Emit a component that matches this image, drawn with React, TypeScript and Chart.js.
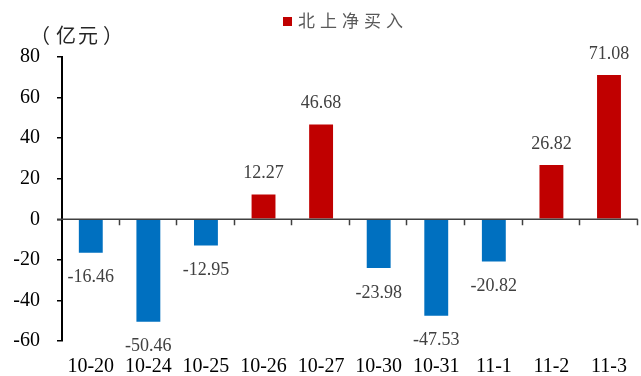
import React, { useEffect, useRef } from "react";
import { Chart, registerables } from "chart.js";

Chart.register(...registerables);

// Northbound net buying by trading day (100 million yuan)
const categories = ["10-20", "10-24", "10-25", "10-26", "10-27", "10-30", "10-31", "11-1", "11-2", "11-3"];
const netBuy = [-16.46, -50.46, -12.95, 12.27, 46.68, -23.98, -47.53, -20.82, 26.82, 71.08];
const seriesName = "北上净买入";
const unitChars = ["（", "亿", "元", "）"];
const yMin = -60;
const yMax = 80;
const yStep = 20;

const RED = "#C00000";
const BLUE = "#0070C0";
const SERIF = "'Liberation Serif', 'Times New Roman', serif";
const CJK = "'Noto Sans CJK SC', sans-serif";

// left edge of each glyph of the unit caption
const unitGlyphX = [43, 56, 78, 103];

// Zero baseline with downward tick marks between categories, value labels,
// unit caption and legend.
const decorations = {
  id: "decorations",
  afterDatasetsDraw(chart: any) {
    const { ctx, chartArea, scales } = chart;
    const y = scales.y;
    const y0 = y.getPixelForValue(0);
    ctx.save();

    // baseline
    ctx.strokeStyle = "#404040";
    ctx.lineWidth = 1.5;
    ctx.beginPath();
    ctx.moveTo(chartArea.left - 5, y0);
    ctx.lineTo(chartArea.right, y0);
    ctx.stroke();
    // category boundary ticks
    const n = categories.length;
    const step = (chartArea.right - chartArea.left) / n;
    ctx.beginPath();
    for (let k = 1; k <= n; k++) {
      const px = Math.round(chartArea.left + step * k) - 0.5;
      ctx.moveTo(px, y0);
      ctx.lineTo(px, y0 + 6);
    }
    ctx.stroke();

    // value labels
    ctx.font = `18px ${SERIF}`;
    ctx.fillStyle = "#404040";
    ctx.textAlign = "center";
    ctx.textBaseline = "middle";
    const meta = chart.getDatasetMeta(0);
    meta.data.forEach((bar: any, i: number) => {
      const v = netBuy[i];
      const py = v >= 0 ? bar.y - 21 : bar.y + 25;
      ctx.fillText(v.toFixed(2), bar.x, py);
    });

    // unit caption, one glyph at a time
    ctx.font = `20px ${CJK}`;
    ctx.fillStyle = "#262626";
    ctx.textAlign = "left";
    unitChars.forEach((ch, i) => {
      const m = ctx.measureText(ch);
      ctx.fillText(ch, unitGlyphX[i] + m.actualBoundingBoxLeft, 35);
    });

    // legend
    ctx.fillStyle = RED;
    ctx.fillRect(283, 17, 9, 9);
    ctx.font = `17px ${CJK}`;
    ctx.fillStyle = "#595959";
    (ctx as any).letterSpacing = "5px";
    ctx.fillText(seriesName, 298, 21);
    ctx.restore();
  },
};

export default function App() {
  const canvasRef = useRef<HTMLCanvasElement | null>(null);

  useEffect(() => {
    document.body.style.margin = "0";
    const canvas = canvasRef.current;
    if (!canvas) return;
    const chart = new Chart(canvas, {
      type: "bar",
      data: {
        labels: categories,
        datasets: [
          {
            label: seriesName,
            data: netBuy,
            backgroundColor: netBuy.map((v) => (v >= 0 ? RED : BLUE)),
            categoryPercentage: 1,
            barPercentage: 0.415,
          },
        ],
      },
      options: {
        responsive: false,
        animation: false,
        devicePixelRatio: 1,
        layout: { padding: { top: 57, right: 1, left: 0, bottom: 0 } },
        plugins: {
          legend: { display: false },
          tooltip: { enabled: false },
        },
        scales: {
          x: {
            offset: true,
            grid: { display: false, drawTicks: false },
            border: { display: false },
            ticks: {
              color: "#000",
              font: { family: SERIF, size: 20 },
              padding: 14,
              maxRotation: 0,
              autoSkip: false,
            },
            afterFit(scale: any) {
              scale.height = 35;
            },
          },
          y: {
            min: yMin,
            max: yMax,
            grid: {
              drawOnChartArea: false,
              drawTicks: true,
              tickLength: 5,
              color: "#000",
              lineWidth: 1.5,
            },
            border: { display: true, color: "#000", width: 2 },
            ticks: {
              stepSize: yStep,
              color: "#000",
              font: { family: SERIF, size: 20 },
              padding: 17,
            },
            afterFit(scale: any) {
              scale.width = 62;
            },
          },
        },
      },
      plugins: [decorations],
    });
    return () => chart.destroy();
  }, []);

  return (
    <div style={{ width: 641, height: 376 }}>
      <canvas ref={canvasRef} width={641} height={376} />
    </div>
  );
}
